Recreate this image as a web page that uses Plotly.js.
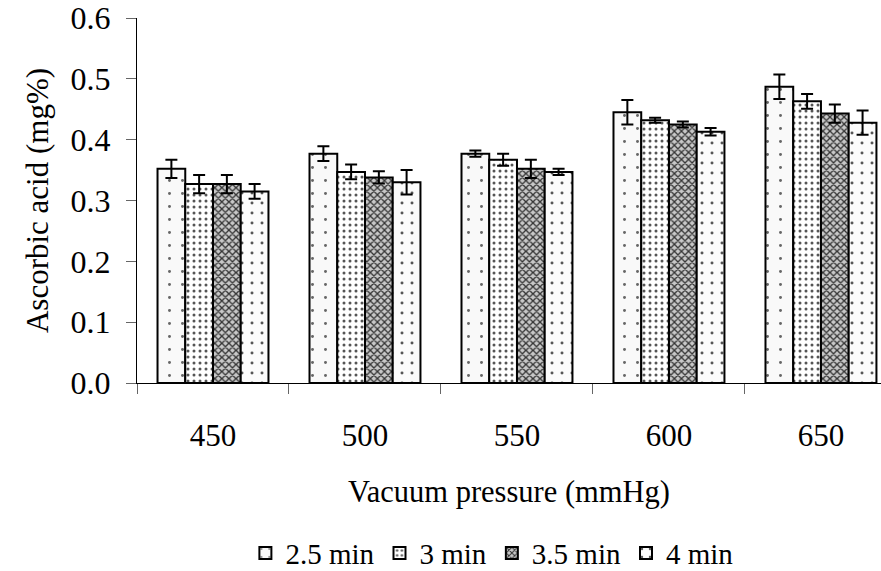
<!DOCTYPE html>
<html>
<head>
<meta charset="utf-8">
<script src="https://cdn.plot.ly/plotly-3.0.1.min.js"></script>
<style>html,body{margin:0;padding:0;background:#fff;}#chart{width:881px;height:571px;}</style>
</head>
<body>
<div id="chart"></div>
<script>
const categories = ['450', '500', '550', '600', '650'];
const seriesNames = ['2.5 min', '3 min', '3.5 min', '4 min'];
const v25 = [0.352, 0.377, 0.377, 0.445, 0.487];
const e25 = [0.015, 0.012, 0.005, 0.020, 0.020];
const v30 = [0.327, 0.347, 0.367, 0.432, 0.463];
const e30 = [0.015, 0.012, 0.010, 0.004, 0.012];
const v35 = [0.327, 0.338, 0.352, 0.425, 0.443];
const e35 = [0.015, 0.010, 0.015, 0.005, 0.015];
const v40 = [0.315, 0.330, 0.347, 0.413, 0.428];
const e40 = [0.012, 0.020, 0.005, 0.006, 0.020];
const yTicks = [0, 0.1, 0.2, 0.3, 0.4, 0.5, 0.6];
const yTickText = ['0.0', '0.1', '0.2', '0.3', '0.4', '0.5', '0.6'];

const values = [v25, v30, v35, v40];
const errors = [e25, e30, e35, e40];
const patterns = [
  {shape: '.', bgcolor: '#f9f9f9', fgcolor: '#666', size: 13, solidity: 0.04, fillmode: 'replace'},
  {shape: '.', bgcolor: '#ffffff', fgcolor: '#555', size: 6, solidity: 0.2, fillmode: 'replace'},
  {shape: 'x', bgcolor: '#c8c8c8', fgcolor: '#333', size: 5, solidity: 0.45, fillmode: 'replace'},
  {shape: '.', bgcolor: '#fbfbfb', fgcolor: '#555', size: 10, solidity: 0.07, fillmode: 'replace'}
];

const font = 'Liberation Serif, Times New Roman, serif';
const traces = seriesNames.map((n, i) => ({
  type: 'bar',
  name: n,
  x: categories,
  y: values[i],
  error_y: {type: 'data', array: errors[i], visible: true, color: '#000', thickness: 2, width: 6},
  marker: {color: '#ffffff', line: {color: '#000', width: 2}, pattern: patterns[i]}
}));

const layout = {
  width: 881, height: 571,
  margin: {l: 137, r: 0, t: 18, b: 188, autoexpand: false},
  paper_bgcolor: '#fff', plot_bgcolor: '#fff',
  font: {family: font, size: 28, color: '#000'},
  barmode: 'group',
  bargap: 0.27,
  bargroupgap: 0,
  showlegend: true,
  legend: {orientation: 'h', x: 0.477, xanchor: 'center', y: -0.466, yanchor: 'middle',
           font: {family: font, size: 29}, itemwidth: 30, tracegroupgap: 0},
  xaxis: {
    type: 'category', range: [-0.5, 4.395], automargin: false,
    showline: true, linecolor: '#000', linewidth: 1,
    ticks: 'outside', tickson: 'boundaries', ticklen: 10, tickcolor: '#666', tickwidth: 1,
    ticklabelstandoff: 25,
    showgrid: false, zeroline: false,
    tickfont: {family: font, size: 31},
    title: {text: 'Vacuum pressure (mmHg)', font: {family: font, size: 30.5}, standoff: 28}
  },
  yaxis: {
    range: [0, 0.6], automargin: false,
    tickvals: yTicks, ticktext: yTickText,
    showline: true, linecolor: '#000', linewidth: 1,
    ticks: 'outside', ticklen: 10, tickcolor: '#666', tickwidth: 1,
    ticklabelstandoff: 9,
    showgrid: false, zeroline: false,
    tickfont: {family: font, size: 32},
    title: {text: 'Ascorbic acid (mg%)', font: {family: font, size: 31}, standoff: 12}
  }
};

Plotly.newPlot('chart', traces, layout, {displayModeBar: false, staticPlot: true});
</script>
</body>
</html>
